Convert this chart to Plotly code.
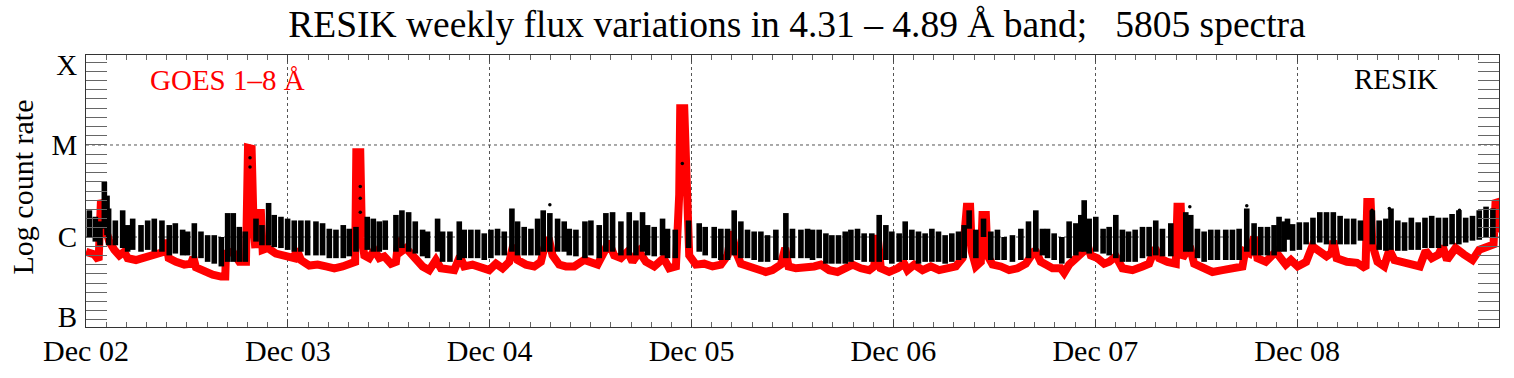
import numpy as np
import pandas as pd
import plotly.graph_objects as go

# ---------------- data (hours since Dec 02 00:00 UT, log10 GOES-equivalent level) ----------------
goes_hours = [
    0.0, 1.0, 1.5, 1.78, 1.98, 2.3, 2.77, 3.37, 3.96, 4.56, 4.95, 5.94, 6.93, 7.92, 8.72, 9.31, 9.51, 9.83,
    10.7, 11.69, 12.48, 12.76, 13.07, 14.07, 15.06, 16.05, 16.56, 16.64, 17.43, 18.23, 19.02, 19.26, 19.69,
    19.93, 20.13, 20.36, 20.8, 21.0, 21.6, 22.58, 23.77, 24.76, 25.04, 25.55, 26.55, 27.54,
    28.53, 29.52, 30.51, 31.5, 32.0, 32.14, 32.61, 32.81, 33.09, 33.68, 34.27, 34.87, 35.46, 36.26, 36.85,
    37.17, 37.44, 38.04, 38.63, 39.23, 40.02, 40.81, 41.6, 42.2, 43.19, 43.78, 44.46, 44.97, 45.96, 46.95,
    47.94, 48.74, 49.53, 50.32, 50.8, 51.31, 52.3, 53.29, 54.08, 54.48, 55.0, 55.47, 56.26,
    57.06, 58.05, 59.24, 60.03, 60.82, 61.62, 62.13, 62.8, 63.6, 64.39, 64.98, 65.78, 66.57, 67.56, 68.67,
    69.34, 70.14, 70.53, 70.65, 71.13, 71.4, 71.72, 72.51, 73.5, 74.49, 75.48, 76.28, 76.75, 77.27, 77.86,
    78.85, 79.84, 80.83, 81.62, 82.62, 83.13, 83.53, 84.4,
    85.59, 86.58, 87.37, 88.36, 89.35, 90.34, 91.14, 92.13, 93.12, 93.71, 94.11, 94.5, 95.49, 96.49, 97.28,
    97.67, 98.47, 99.46, 100.45, 101.44, 102.43, 103.42, 104.21, 104.73, 105.12, 105.32, 105.8, 106.39,
    106.59, 106.99, 107.18, 107.78, 108.77, 109.76, 110.75, 111.74, 112.85, 113.52,
    114.12, 114.91, 115.9, 116.3, 116.89, 117.29, 117.88, 118.8, 118.95, 119.47, 120.26, 121.05, 121.65,
    122.44, 123.23, 124.42, 125.61, 126.4, 127.12, 127.59, 128.58, 129.57, 129.77, 130.16, 130.36, 130.96,
    131.24, 131.75, 132.74, 133.93, 135.12, 136.31, 137.5, 137.81, 138.29, 138.88, 139.28, 140.27, 141.46,
    142.65, 143.26, 144.06, 145.07, 145.8, 146.48, 147.49, 148.1, 148.3, 148.7, 149.91, 151.12, 152.13,
    152.34, 152.74, 152.94, 153.55, 154.35, 154.96, 155.56, 156.57, 157.58, 158.59, 159.28, 160.0, 160.81,
    161.29, 161.82, 162.83, 163.84, 164.85, 165.65, 166.46, 167.35, 167.6, 167.85, 168.1,
]
goes_level = [
    -6.16, -6.19, -6.25, -5.60, -5.65, -5.90, -6.05, -6.14, -6.20, -6.16, -6.23, -6.25, -6.22, -6.20, -6.16, -6.16, -6.03, -6.23,
    -6.27, -6.30, -6.29, -6.22, -6.33, -6.38, -6.41, -6.43, -6.43, -6.18, -6.16, -6.27, -6.27, -5.03, -5.04,
    -5.90, -6.12, -5.74, -5.74, -6.14, -6.12, -6.18, -6.21, -6.23, -6.13, -6.25, -6.31, -6.30,
    -6.32, -6.34, -6.32, -6.29, -6.27, -5.08, -5.08, -6.01, -6.20, -6.23, -6.14, -6.23, -6.21, -6.29, -6.27,
    -6.01, -6.16, -6.12, -6.18, -6.27, -6.32, -6.36, -6.25, -6.34, -6.34, -6.36, -6.21, -6.32, -6.30, -6.34,
    -6.36, -6.29, -6.34, -6.27, -6.09, -6.25, -6.30, -6.32, -6.27, -6.12, -6.01, -6.20, -6.30,
    -6.32, -6.32, -6.25, -6.27, -6.30, -6.16, -6.05, -6.20, -6.23, -6.16, -6.27, -6.16, -6.27, -6.32, -6.23,
    -6.34, -6.32, -5.54, -4.60, -4.60, -5.36, -6.20, -6.30, -6.29, -6.32, -6.30, -6.20, -5.94, -6.16, -6.29,
    -6.32, -6.34, -6.38, -6.36, -6.30, -6.12, -6.32, -6.34,
    -6.34, -6.32, -6.30, -6.36, -6.38, -6.34, -6.30, -6.34, -6.36, -6.32, -5.98, -6.34, -6.38, -6.34, -6.29,
    -6.36, -6.30, -6.36, -6.32, -6.36, -6.34, -6.32, -6.23, -5.67, -5.67, -6.16, -6.32, -6.27,
    -5.76, -5.76, -6.20, -6.30, -6.32, -6.36, -6.34, -6.29, -6.14, -6.27,
    -6.30, -6.34, -6.34, -6.39, -6.30, -6.27, -6.23, -6.14, -6.05, -6.20, -6.23, -6.29, -6.27,
    -6.21, -6.34, -6.36, -6.32, -6.29, -6.12, -6.23, -6.27, -6.29, -5.67, -5.67, -6.23, -6.16,
    -6.10, -6.29, -6.34, -6.38, -6.36, -6.34, -6.32, -6.16, -6.18, -6.00, -6.23, -6.27, -6.16,
    -6.30, -6.25, -6.32, -6.27, -6.10, -6.15, -6.21, -6.17, -6.04, -6.23, -6.27, -6.28, -6.34,
    -5.62, -5.62, -6.08, -6.27, -6.32, -6.14, -6.25, -6.27, -6.28, -6.32, -6.15, -6.23, -6.19,
    -6.10, -6.25, -6.12, -6.19, -6.25, -6.14, -6.10, -6.08, -5.60, -5.63, -5.95,
]

# RESIK: each orbit's burst of spectra shown as a column from its lowest to highest level
resik_hours = [
    0.40, 1.11, 1.66, 2.18, 2.50, 2.69, 3.49, 4.36, 4.95, 5.55, 6.54, 7.33, 8.12, 9.03, 9.90, 10.62, 11.49,
    12.08, 12.88, 13.67, 14.46, 15.25, 16.09, 16.84, 17.51, 18.23, 18.94, 20.21, 20.92, 21.71, 22.38, 23.18,
    23.97, 24.76, 25.55, 26.35, 27.34, 28.13,
    28.93, 29.72, 30.59, 31.30, 32.10, 33.44, 34.16, 34.87, 35.58, 36.85, 37.56, 38.36, 39.15, 40.02, 40.61,
    41.80, 42.40, 43.27, 44.38, 44.97, 45.76, 46.56, 47.35, 48.14, 48.93, 49.73, 50.64, 51.31, 52.10, 52.90,
    53.69, 54.36, 55.15, 56.07, 56.86,
    57.46, 58.25, 59.32, 60.03, 61.02, 61.81, 62.61, 63.60, 64.59, 65.38, 66.17, 66.77, 67.56, 68.55, 69.14,
    70.06, 71.64, 72.91, 73.62, 74.69, 75.48, 76.28, 77.07, 77.86, 78.65, 79.44, 80.24, 81.03, 82.02, 83.21,
    84.00, 85.00,
    85.79, 86.38, 87.17, 87.97, 88.68, 89.47, 90.27, 90.94, 91.73, 92.52, 93.43, 94.31, 95.10, 95.81, 96.68,
    97.40, 98.19, 98.98, 99.77, 100.57, 101.36, 102.15, 102.94, 103.74, 104.41, 105.00, 105.80, 106.71,
    107.58, 108.37, 109.16, 110.15, 111.15, 112.06, 112.93, 113.72,
    114.32, 115.11, 116.02, 116.89, 117.69, 118.28, 118.68, 119.27, 120.06, 120.93, 121.65, 122.44, 123.23,
    123.95, 124.74, 125.61, 126.40, 127.19, 127.99, 128.98, 130.76, 131.35, 132.15, 132.94, 133.73, 134.52,
    135.51, 136.31, 137.10, 138.01, 138.88, 139.67, 140.47, 141.26, 141.85, 142.45,
    142.85, 143.46, 144.26, 145.07, 145.88, 146.69, 147.49, 148.30, 149.11, 149.91, 150.72, 151.53, 152.94,
    153.75, 154.55, 155.16, 155.97, 156.77, 157.58, 158.39, 159.20, 160.00, 160.81, 161.62, 162.42, 163.23,
    164.04, 164.85, 165.65, 166.46, 167.27,
]
resik_low = [
    -6.01, -6.05, -6.09, -5.91, -5.98, -6.09, -6.09, -6.12, -6.16, -6.14, -6.16, -6.14, -6.16, -6.16, -6.20, -6.18, -6.20,
    -6.20, -6.23, -6.23, -6.27, -6.29, -6.32, -6.27, -6.27, -6.27, -6.27, -6.05, -6.09, -6.09, -6.11, -6.12,
    -6.14, -6.16, -6.16, -6.20, -6.20, -6.20,
    -6.23, -6.23, -6.23, -6.21, -6.16, -6.14, -6.16, -6.16, -6.14, -6.16, -6.12, -6.16, -6.18, -6.21, -6.23,
    -6.16, -6.27, -6.27, -6.25, -6.23, -6.23, -6.23, -6.25, -6.23, -6.20, -6.20, -6.16, -6.20, -6.20, -6.20,
    -6.20, -6.16, -6.16, -6.16, -6.16,
    -6.20, -6.21, -6.23, -6.20, -6.23, -6.16, -6.16, -6.20, -6.20, -6.20, -6.16, -6.20, -6.21, -6.20, -6.23,
    -6.23, -6.12, -6.16, -6.20, -6.23, -6.25, -6.25, -6.20, -6.23, -6.23, -6.25, -6.27, -6.27, -6.25, -6.23,
    -6.23, -6.23,
    -6.23, -6.25, -6.23, -6.29, -6.29, -6.29, -6.29, -6.27, -6.25, -6.27, -6.27, -6.27, -6.25, -6.29, -6.27,
    -6.25, -6.25, -6.29, -6.27, -6.27, -6.27, -6.29, -6.27, -6.25, -6.23, -5.91, -6.23, -6.00,
    -6.25, -6.25, -6.25, -6.27, -6.25, -6.23, -6.16, -6.20,
    -6.23, -6.25, -6.29, -6.23, -6.20, -6.16, -6.16, -6.18, -6.16, -6.18, -6.20, -6.23, -6.27,
    -6.27, -6.27, -6.23, -6.21, -6.20, -6.21, -6.21, -6.16, -6.16, -6.23, -6.27, -6.25, -6.25,
    -6.25, -6.25, -6.25, -6.16, -6.20, -6.20, -6.20, -6.20, -6.16, -6.16,
    -6.03, -6.15, -6.14, -6.08, -6.08, -6.06, -6.08, -6.08, -6.08, -6.08, -6.08, -6.04, -6.08,
    -6.14, -6.15, -6.14, -6.15, -6.15, -6.14, -6.14, -6.12, -6.12, -6.12, -6.10, -6.08, -6.08,
    -6.06, -6.04, -6.03, -6.01, -6.01,
]
resik_high = [
    -5.71, -5.78, -5.83, -5.40, -5.55, -5.69, -5.82, -5.71, -5.87, -5.80, -5.87, -5.82, -5.80, -5.82, -5.87, -5.85, -5.92,
    -5.94, -5.85, -5.94, -5.98, -5.98, -6.00, -5.74, -5.74, -5.89, -5.94, -5.80, -5.87, -5.63, -5.76, -5.78,
    -5.80, -5.82, -5.82, -5.82, -5.83, -5.85,
    -5.91, -5.92, -5.87, -5.91, -5.89, -5.78, -5.80, -5.83, -5.82, -5.76, -5.71, -5.73, -5.83, -5.92, -5.94,
    -5.80, -5.94, -5.94, -5.83, -5.92, -5.92, -5.92, -5.96, -5.92, -5.91, -5.94, -5.69, -5.83, -5.89, -5.91,
    -5.80, -5.71, -5.74, -5.80, -5.83,
    -5.91, -5.92, -5.83, -5.82, -5.87, -5.74, -5.73, -5.83, -5.73, -5.82, -5.73, -5.87, -5.89, -5.80, -5.91,
    -5.92, -5.82, -5.85, -5.89, -5.89, -5.91, -5.91, -5.71, -5.83, -5.92, -5.94, -5.94, -5.98, -5.92, -5.74,
    -5.91, -5.92,
    -5.91, -5.92, -5.92, -5.96, -5.98, -5.98, -5.94, -5.92, -5.91, -5.96, -5.96, -5.76, -5.87, -5.94, -5.96,
    -5.83, -5.92, -5.94, -5.96, -5.91, -5.94, -5.98, -5.96, -5.94, -5.87, -5.71, -5.92, -5.80,
    -5.94, -5.92, -6.00, -5.98, -5.91, -5.83, -5.71, -5.91,
    -5.91, -5.96, -6.00, -5.83, -5.85, -5.76, -5.60, -5.80, -5.78, -5.91, -5.89, -5.76, -5.92,
    -5.94, -5.92, -5.89, -5.89, -5.82, -5.91, -5.85, -5.73, -5.76, -5.91, -5.94, -5.92, -5.92,
    -5.92, -5.92, -5.91, -5.69, -5.85, -5.89, -5.89, -5.87, -5.78, -5.83,
    -5.80, -5.86, -5.84, -5.84, -5.79, -5.73, -5.73, -5.73, -5.77, -5.80, -5.80, -5.82, -5.71,
    -5.82, -5.80, -5.69, -5.82, -5.84, -5.79, -5.84, -5.79, -5.77, -5.79, -5.79, -5.75, -5.71,
    -5.79, -5.77, -5.71, -5.67, -5.69,
]
# isolated RESIK spectra recorded during flares
resik_extra_hours = [19.5, 19.5, 32.61, 32.61, 32.61, 55.15, 70.9, 131.24, 138.01, 152.9, 154.96, 163.3]
resik_extra_level = [-5.14, -5.24, -5.45, -5.58, -5.73, -5.65, -5.20, -5.67, -5.66, -5.71, -5.69, -5.71]

day_labels = ["Dec 02", "Dec 03", "Dec 04", "Dec 05", "Dec 06", "Dec 07", "Dec 08"]
class_labels = ["B", "C", "M", "X"]
class_label_levels = [-6.87, -6.0, -5.0, -4.13]
class_grid_levels = [-6.0, -5.0]

# ---------------- figure ----------------
base = pd.Timestamp("2003-12-02")


def to_time(hours):
    return [(base + pd.Timedelta(hours=float(h))).strftime("%Y-%m-%d %H:%M:%S") for h in hours]


FONT = "Liberation Serif, Times New Roman, serif"

goes_t = to_time(goes_hours)
resik_t = to_time(resik_hours)

col_x, col_y = [], []
for t, lo, hi in zip(resik_t, resik_low, resik_high):
    col_x += [t, t, None]
    col_y += [lo, hi, None]

fig = go.Figure()
fig.add_trace(go.Scatter(x=goes_t, y=goes_level, mode="lines",
                         line=dict(color="#ff0000", width=8), hoverinfo="skip"))
fig.add_trace(go.Scatter(x=col_x, y=col_y, mode="lines",
                         line=dict(color="black", width=5.6), hoverinfo="skip"))
fig.add_trace(go.Scatter(x=to_time(resik_extra_hours), y=resik_extra_level, mode="markers",
                         marker=dict(color="black", size=3.5), hoverinfo="skip"))

for lv in class_grid_levels:
    fig.add_shape(type="line", xref="paper", x0=0, x1=1, yref="y", y0=lv, y1=lv,
                  line=dict(color="#555555", width=1, dash="dot"), layer="below")

day_ticks = to_time([24 * k for k in range(len(day_labels))])

fig.update_xaxes(
    type="date", automargin=False,
    range=to_time([0, 168]),
    tickmode="array", tickvals=day_ticks, ticktext=day_labels,
    tickfont=dict(family=FONT, size=30, color="black"),
    ticks="inside", ticklen=7, tickcolor="#444444",
    showgrid=True, gridcolor="#555555", griddash="dot", gridwidth=1,
    showline=True, linecolor="#333333", linewidth=1, mirror="allticks",
    zeroline=False,
    ticklabelstandoff=-3,
    minor=dict(tickmode="linear", tick0=day_ticks[0], dtick=2.4 * 3600 * 1000,
               ticks="inside", ticklen=5, tickcolor="#666666", showgrid=False),
)
fig.update_yaxes(
    automargin=False,
    range=[-6.978, -4.022],
    tickmode="array", tickvals=class_label_levels, ticktext=class_labels,
    tickfont=dict(family=FONT, size=29, color="black"),
    ticks="", showgrid=False, zeroline=False,
    showline=True, linecolor="#333333", linewidth=1, mirror="allticks",
    ticklabelstandoff=2,
    minor=dict(tickmode="linear", tick0=-7.0, dtick=0.1,
               ticks="inside", ticklen=21, tickcolor="#666666", showgrid=False),
)

fig.update_layout(
    width=1514, height=378,
    margin=dict(l=86, r=15, t=55, b=51, autoexpand=False),
    paper_bgcolor="white", plot_bgcolor="white",
    showlegend=False,
    font=dict(family=FONT, color="black"),
    title=dict(text="RESIK weekly flux variations in 4.31 \u2013 4.89 \u00c5 band;\u00a0\u00a0\u00a05805 spectra",
               x=797 / 1514, xref="container", xanchor="center",
               y=1 - 24 / 378, yref="container", yanchor="middle",
               font=dict(family=FONT, size=37.5, color="black")),
    annotations=[
        dict(text="Log count rate", xref="paper", yref="paper", x=(22 - 86) / 1413, y=0.513,
             textangle=-90, showarrow=False, xanchor="center", yanchor="middle",
             font=dict(family=FONT, size=30, color="black")),
        dict(text="GOES 1\u20138 \u00c5", xref="paper", yref="paper", x=(227 - 86) / 1413, y=0.908,
             showarrow=False, xanchor="center", yanchor="middle",
             font=dict(family=FONT, size=29, color="#ff0000")),
        dict(text="RESIK", xref="paper", yref="paper", x=(1395.5 - 86) / 1413, y=0.9117,
             showarrow=False, xanchor="center", yanchor="middle",
             font=dict(family=FONT, size=29, color="black")),
    ],
)

fig.write_html("out.html", config={"displayModeBar": False},
               post_script="document.body.style.margin='0px';")
